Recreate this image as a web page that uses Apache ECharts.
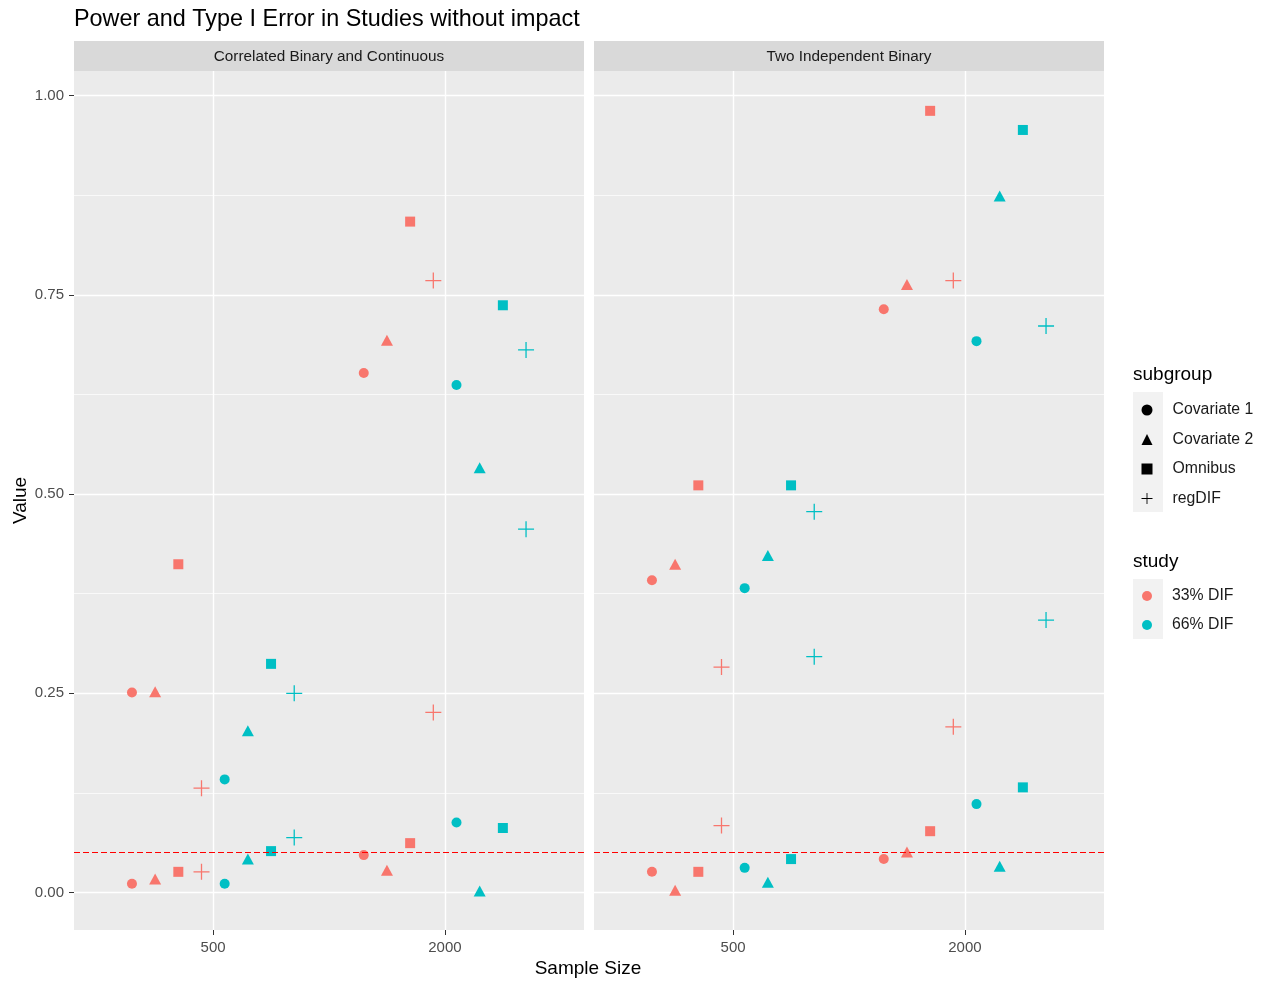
<!DOCTYPE html>
<html>
<head>
<meta charset="utf-8">
<script src="https://cdn.jsdelivr.net/npm/echarts@6/dist/echarts.min.js"></script>
<style>
  html, body { margin: 0; padding: 0; background: #fff; }
  #chart { width: 1270px; height: 983px; }
</style>
</head>
<body>
<div id="chart"></div>
<script>
const sampleSizes = ['500', '2000'];
const subgroups = ['Covariate 1', 'Covariate 2', 'Omnibus', 'regDIF'];
const studies = ['33% DIF', '66% DIF'];
const panels = ['Correlated Binary and Continuous', 'Two Independent Binary'];

// rows = subgroups, columns = sample sizes (500, 2000)
const corr33Upper = [[0.251, 0.652], [0.252, 0.693], [0.412, 0.842], [0.131, 0.768]];
const corr33Lower = [[0.011, 0.047], [0.017, 0.028], [0.026, 0.062], [0.026, 0.226]];
const corr66Upper = [[0.142, 0.637], [0.203, 0.533], [0.287, 0.737], [0.250, 0.681]];
const corr66Lower = [[0.011, 0.088], [0.042, 0.002], [0.052, 0.081], [0.069, 0.456]];
const indep33Upper = [[0.392, 0.732], [0.412, 0.763], [0.511, 0.981], [0.283, 0.768]];
const indep33Lower = [[0.026, 0.042], [0.003, 0.051], [0.026, 0.077], [0.084, 0.208]];
const indep66Upper = [[0.382, 0.692], [0.423, 0.874], [0.511, 0.957], [0.478, 0.711]];
const indep66Lower = [[0.031, 0.111], [0.013, 0.033], [0.042, 0.132], [0.296, 0.342]];

const yTicks = [0, 0.25, 0.5, 0.75, 1];
const yMinorTicks = [0.125, 0.375, 0.625, 0.875];
const errorLevel = 0.05;

const studyColors = ['#F8766D', '#00BFC4'];
const plusPath = 'path://M0,9.2H20V10.8H0Z M9.2,0H10.8V20H9.2Z';
const symbols = ['circle', 'triangle', 'rect', plusPath];
const symbolSizes = [10, [12, 11], 10, 16];

const panelData = [
  [[corr33Upper, corr33Lower], [corr66Upper, corr66Lower]],
  [[indep33Upper, indep33Lower], [indep66Upper, indep66Lower]],
];

const font = '"Liberation Sans", Arial, sans-serif';
const panelLefts = [74, 594];
const panelWidth = 510;

const series = [];
panels.forEach((panel, p) => {
  subgroups.forEach((sub, s) => {
    const data = [];
    studies.forEach((st, k) => {
      panelData[p][k].forEach((set) => {
        sampleSizes.forEach((n, c) => {
          // position_dodge(width = 0.8) over 8 groups
          const x = (c + 1) + (k * 4 + s - 3.5) * 0.1;
          data.push({ value: [x, set[s][c]], itemStyle: { color: studyColors[k] } });
        });
      });
    });
    series.push({
      name: sub,
      type: 'scatter',
      xAxisIndex: p,
      yAxisIndex: p * 2,
      symbol: symbols[s],
      symbolSize: symbolSizes[s],
      itemStyle: { opacity: 1 },
      clip: false,
      data,
      z: 3,
    });
  });
  series.push({
    type: 'scatter',
    xAxisIndex: p,
    yAxisIndex: p * 2,
    data: [],
    silent: true,
    markLine: {
      silent: true,
      symbol: 'none',
      label: { show: false },
      lineStyle: { color: '#FF0000', width: 1.2, type: [6, 3], opacity: 1 },
      data: [{ yAxis: errorLevel }],
    },
  });
});
studies.forEach((st, k) => {
  series.push({
    name: st,
    type: 'scatter',
    xAxisIndex: 0,
    yAxisIndex: 0,
    data: [],
    itemStyle: { color: studyColors[k], opacity: 1 },
  });
});

const grids = panelLefts.map((left) => ({
  left,
  width: panelWidth,
  top: 71,
  bottom: 53,
  show: true,
  backgroundColor: '#EBEBEB',
  borderWidth: 0,
}));

const xAxes = panelLefts.map((l, p) => ({
  type: 'value',
  gridIndex: p,
  min: 0.4,
  max: 2.6,
  axisLine: { show: false, onZero: false },
  axisTick: { show: true, length: 5, lineStyle: { color: '#333333' }, customValues: [1, 2] },
  axisLabel: {
    customValues: [1, 2],
    margin: 10,
    color: '#4D4D4D',
    fontSize: 15,
    fontFamily: font,
    formatter: (v) => sampleSizes[Math.round(v) - 1],
  },
  splitLine: { show: true, lineStyle: { color: '#FFFFFF', width: 1.4 } },
}));

const yAxes = [];
panelLefts.forEach((l, p) => {
  yAxes.push({
    type: 'value',
    gridIndex: p,
    min: -0.047,
    max: 1.031,
    name: p === 0 ? 'Value' : '',
    nameLocation: 'middle',
    nameRotate: 90,
    nameGap: 44,
    nameTextStyle: { color: '#000', fontSize: 19, fontFamily: font },
    axisLine: { show: false, onZero: false },
    axisTick: { show: p === 0, length: 5, lineStyle: { color: '#333333' }, customValues: yTicks },
    axisLabel: {
      show: p === 0,
      customValues: yTicks,
      margin: 10,
      color: '#4D4D4D',
      fontSize: 15,
      fontFamily: font,
      formatter: (v) => v.toFixed(2),
    },
    splitLine: { show: true, lineStyle: { color: '#FFFFFF', width: 1.4 } },
  });
  yAxes.push({
    type: 'value',
    gridIndex: p,
    min: -0.047,
    max: 1.031,
    position: 'left',
    axisLine: { show: false, onZero: false },
    axisTick: { show: false, customValues: yMinorTicks },
    axisLabel: { show: false, customValues: yMinorTicks },
    splitLine: { show: true, lineStyle: { color: '#FFFFFF', width: 0.7 } },
  });
});

const graphic = [];
panels.forEach((panel, p) => {
  graphic.push({
    type: 'rect',
    left: panelLefts[p],
    top: 41,
    shape: { width: panelWidth, height: 30 },
    style: { fill: '#D9D9D9' },
    z: -1,
  });
  graphic.push({
    type: 'text',
    x: panelLefts[p] + panelWidth / 2,
    y: 57,
    style: {
      text: panel,
      fill: '#1A1A1A',
      font: '15.3px ' + font,
      align: 'center',
      verticalAlign: 'middle',
    },
  });
});
graphic.push(
  { type: 'text', x: 588, y: 969, style: { text: 'Sample Size', fill: '#000', font: '19px ' + font, align: 'center', verticalAlign: 'middle' } },
  { type: 'text', x: 1133, y: 375, style: { text: 'subgroup', fill: '#000', font: '19px ' + font, verticalAlign: 'middle' } },
  { type: 'text', x: 1133, y: 562, style: { text: 'study', fill: '#000', font: '19px ' + font, verticalAlign: 'middle' } },
  { type: 'rect', left: 1133, top: 392, shape: { width: 30, height: 120 }, style: { fill: '#F2F2F2' }, z: -1 },
  { type: 'rect', left: 1133, top: 579, shape: { width: 30, height: 60 }, style: { fill: '#F2F2F2' }, z: -1 },
);

const legendText = { color: '#1A1A1A', fontSize: 15.8, fontFamily: font, padding: [0, 0, 0, 15] };

const option = {
  animation: false,
  title: {
    text: 'Power and Type I Error in Studies without impact',
    left: 69,
    top: 3,
    textStyle: { color: '#000', fontSize: 23.4, fontWeight: 'normal', fontFamily: font },
  },
  grid: grids,
  xAxis: xAxes,
  yAxis: yAxes,
  legend: [
    {
      orient: 'vertical',
      left: 1141.5,
      top: 402,
      padding: 0,
      itemWidth: 11,
      itemHeight: 11,
      itemGap: 13.5,
      selectedMode: false,
      textStyle: legendText,
      data: subgroups.map((s, i) => ({
        name: s,
        icon: symbols[i],
        itemStyle: { color: '#000', opacity: 1 },
      })),
    },
    {
      orient: 'vertical',
      left: 1142,
      top: 588,
      padding: 0,
      itemWidth: 10,
      itemHeight: 10,
      itemGap: 13,
      selectedMode: false,
      textStyle: legendText,
      data: studies.map((s) => ({ name: s, icon: 'circle' })),
    },
  ],
  graphic,
  series,
};

const chart = echarts.init(document.getElementById('chart'));
chart.setOption(option);
</script>
</body>
</html>
